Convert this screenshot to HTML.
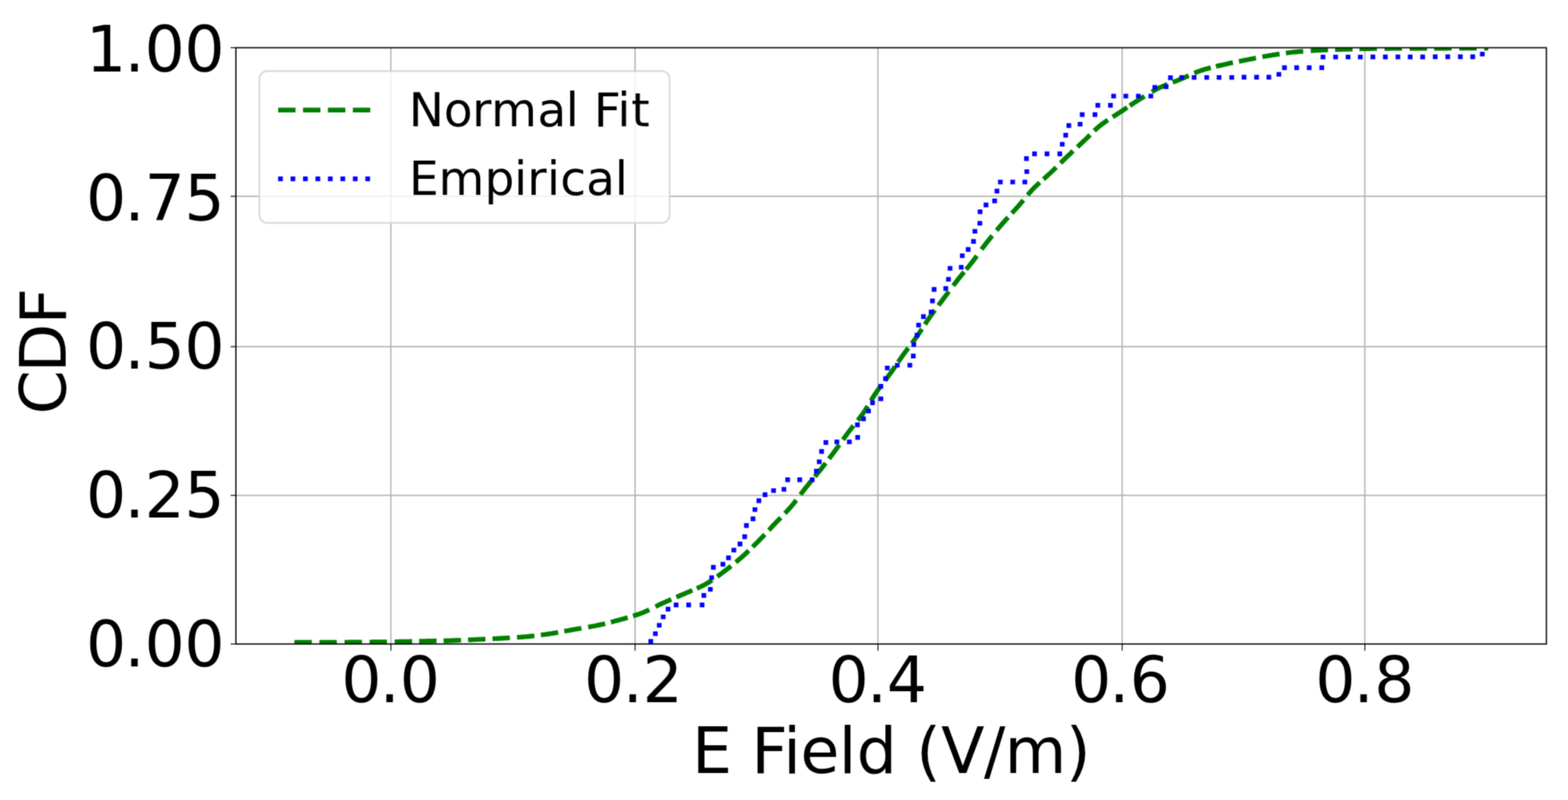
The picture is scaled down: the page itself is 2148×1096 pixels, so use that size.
<!DOCTYPE html><html><head><meta charset="utf-8"><style>html,body{margin:0;padding:0;background:#fff;overflow:hidden}svg{display:block}text{font-family:"DejaVu Sans","Liberation Sans",sans-serif;font-kerning:none}</style></head><body>
<svg width="2148" height="1096" viewBox="0 0 2148 1096">
<defs><clipPath id="ax"><rect x="323.2" y="65.4" width="1795.2" height="816.9"/></clipPath></defs>
<filter id="bl" x="0" y="0" width="2148" height="1096" filterUnits="userSpaceOnUse" color-interpolation-filters="sRGB"><feConvolveMatrix order="3" kernelMatrix="1 3 1 3 9 3 1 3 1" divisor="25" edgeMode="duplicate"/></filter>
<g filter="url(#bl)"><rect width="2148" height="1096" fill="#fff"/>
<path d="M535.5 65.4V882.3M870 65.4V882.3M1202.65 65.4V882.3M1537.3 65.4V882.3M1869.7 65.4V882.3M323.2 268.96H2118.4M323.2 474.92H2118.4M323.2 678.55H2118.4" stroke="#b0b0b0" stroke-width="1.72" fill="none"/>
<g clip-path="url(#ax)"><path d="M403.31 880 405.47 880 407.64 880 409.8 880 411.97 880 414.14 880 416.3 880 418.47 880 420.64 880 422.8 880 424.97 880 427.13 880M437.59 880 439.75 880 441.92 880 444.08 880 446.25 880 448.42 880 450.58 880 452.75 880 454.92 879.99 457.08 879.98 459.25 879.97 461.41 879.96M471.99 879.89 474.15 879.87 476.32 879.86 478.48 879.84 480.65 879.82 482.82 879.81 484.98 879.79 487.15 879.78 489.31 879.76 491.48 879.74 493.65 879.73 495.81 879.71M506.28 879.62 508.45 879.6 510.62 879.58 512.78 879.56 514.95 879.53 517.11 879.51 519.28 879.49 521.45 879.46 523.61 879.44 525.78 879.41 527.95 879.38 530.11 879.35M540.69 879.2 542.86 879.16 545.02 879.13 547.19 879.09 549.36 879.06 551.52 879.02 553.69 878.98 555.85 878.94 558.02 878.9 560.18 878.86 562.35 878.82 564.52 878.77M574.19 878.57 576.35 878.52 578.52 878.47 580.68 878.42 582.85 878.37 585.01 878.32 587.18 878.28 589.35 878.23 591.51 878.18 593.68 878.13 595.84 878.09 598.01 878.04M607.69 877.82 609.85 877.77 612.02 877.71 614.18 877.66 616.35 877.6 618.51 877.53 620.68 877.47 622.84 877.4 625.01 877.32 627.17 877.24 629.34 877.15 631.5 877.07M641.2 876.64 643.36 876.54 645.52 876.44 647.69 876.35 649.85 876.25 652.02 876.15 654.18 876.05 656.34 875.96 658.51 875.86 660.67 875.76 662.84 875.67 665 875.57M674.7 875.11 676.86 875.01 679.03 874.9 681.19 874.79 683.35 874.68 685.52 874.56 687.68 874.44 689.84 874.32 692.01 874.2 694.17 874.08 696.33 873.95 698.49 873.83M708.32 873.21 710.48 873.06 712.64 872.9 714.8 872.74 716.96 872.57 719.12 872.39 721.28 872.21 723.43 872.01 725.59 871.79 727.74 871.57 729.9 871.33 732.05 871.08M741 869.95 743.14 869.66 745.29 869.37 747.44 869.07 749.58 868.76 751.72 868.46 753.87 868.14 756.01 867.82 758.15 867.48 760.29 867.12 762.42 866.76 764.56 866.38M772.98 864.85 775.11 864.45 777.24 864.06 779.37 863.66 781.5 863.27 783.63 862.89 785.76 862.51 787.9 862.14 790.03 861.78 792.17 861.42 794.31 861.06 796.44 860.7M805.7 859.12 807.83 858.74 809.96 858.35 812.09 857.95 814.22 857.54 816.34 857.12 818.47 856.68 820.58 856.23 822.7 855.76 824.81 855.29 826.92 854.8 829.03 854.3M836.88 852.35 838.98 851.81 841.08 851.26 843.17 850.71 845.26 850.15 847.36 849.58 849.45 849.01 851.54 848.44 853.63 847.87 855.71 847.29 857.8 846.71 859.88 846.11M867.21 843.92 869.28 843.27 871.34 842.6 873.39 841.91 875.44 841.2 877.48 840.47 879.51 839.72 881.52 838.92 883.52 838.08 885.5 837.2 887.47 836.29 889.42 835.36M897.98 831.1 899.92 830.13 901.86 829.16 903.8 828.21 905.75 827.27 907.71 826.35 909.69 825.46 911.67 824.57 913.65 823.7 915.63 822.83 917.62 821.97 919.61 821.11M926.57 818.13 928.56 817.27 930.55 816.42 932.54 815.56 934.53 814.7 936.51 813.83 938.5 812.96 940.49 812.11 942.48 811.27 944.48 810.43 946.48 809.6 948.48 808.77M954.57 806.18 956.55 805.3 958.52 804.39 960.48 803.46 962.42 802.5 964.35 801.51 966.25 800.48 968.13 799.41 970 798.3 971.84 797.16 973.66 795.99 975.47 794.79M982.51 789.87 984.26 788.6 986.01 787.32 987.75 786.03 989.49 784.74 991.23 783.45 992.97 782.16 994.7 780.85 996.42 779.54 998.13 778.21 999.84 776.88 1001.53 775.53M1007.97 770.27 1009.63 768.88 1011.28 767.47 1012.92 766.06 1014.56 764.64 1016.19 763.22 1017.81 761.78 1019.42 760.33 1021.02 758.87 1022.6 757.39 1024.18 755.91 1025.75 754.42M1030.98 749.33 1032.52 747.81 1034.05 746.28 1035.58 744.74 1037.11 743.21 1038.64 741.67 1040.16 740.13 1041.67 738.58 1043.18 737.02 1044.68 735.46 1046.17 733.89 1047.65 732.31M1053.17 726.4 1054.64 724.82 1056.12 723.23 1057.59 721.65 1059.07 720.06 1060.56 718.49 1062.05 716.91 1063.55 715.35 1065.05 713.79 1066.56 712.24 1068.08 710.69 1069.6 709.15M1075.27 703.3 1076.76 701.73 1078.24 700.14 1079.71 698.55 1081.16 696.94 1082.59 695.31 1084.01 693.67 1085.4 692.01 1086.77 690.33 1088.12 688.64 1089.45 686.94 1090.78 685.22M1096.53 677.63 1097.84 675.91 1099.15 674.18 1100.46 672.46 1101.79 670.75 1103.13 669.04 1104.48 667.35 1105.84 665.67 1107.21 663.99 1108.58 662.31 1109.96 660.64 1111.35 658.98M1116.28 653.04 1117.66 651.37 1119.04 649.7 1120.41 648.02 1121.77 646.33 1123.13 644.64 1124.47 642.95 1125.82 641.25 1127.15 639.54 1128.49 637.83 1129.81 636.12 1131.14 634.41M1135.64 628.52 1136.95 626.8 1138.26 625.07 1139.56 623.34 1140.86 621.6 1142.15 619.87 1143.45 618.13 1144.73 616.38 1146 614.63 1147.27 612.88 1148.53 611.12 1149.79 609.35M1154.79 602.34 1156.05 600.58 1157.31 598.82 1158.58 597.06 1159.86 595.31 1161.15 593.57 1162.45 591.84 1163.76 590.12 1165.09 588.41 1166.44 586.71 1167.79 585.01 1169.14 583.33M1175.06 575.94 1176.4 574.24 1177.72 572.52 1179.02 570.79 1180.31 569.05 1181.57 567.29 1182.81 565.51 1184.02 563.72 1185.21 561.9 1186.37 560.07 1187.51 558.23 1188.64 556.39M1193.12 548.96 1194.25 547.11 1195.38 545.27 1196.53 543.43 1197.7 541.61 1198.89 539.8 1200.11 538.01 1201.35 536.23 1202.61 534.46 1203.88 532.71 1205.16 530.96 1206.45 529.22M1212.4 521.37 1213.71 519.64 1215.01 517.91 1216.31 516.18 1217.59 514.43 1218.87 512.68 1220.13 510.92 1221.38 509.15 1222.62 507.38 1223.85 505.6 1225.08 503.81 1226.31 502.03M1230.38 496.07 1231.61 494.28 1232.84 492.5 1234.08 490.72 1235.32 488.94 1236.57 487.18 1237.84 485.42 1239.11 483.67 1240.4 481.92 1241.69 480.19 1242.99 478.46 1244.3 476.73M1249.16 470.31 1250.46 468.58 1251.76 466.84 1253.04 465.09 1254.31 463.34 1255.58 461.58 1256.82 459.81 1258.05 458.03 1259.27 456.23 1260.47 454.43 1261.67 452.63 1262.85 450.81M1267.05 444.38 1268.24 442.57 1269.43 440.76 1270.64 438.96 1271.85 437.17 1273.08 435.38 1274.33 433.61 1275.58 431.85 1276.85 430.09 1278.13 428.34 1279.41 426.59 1280.7 424.85M1285.53 418.41 1286.83 416.68 1288.14 414.95 1289.45 413.23 1290.75 411.5 1292.05 409.77 1293.35 408.03 1294.65 406.3 1295.94 404.56 1297.24 402.82 1298.53 401.09 1299.82 399.35M1305.83 391.34 1307.14 389.61 1308.45 387.89 1309.77 386.17 1311.1 384.46 1312.43 382.75 1313.77 381.05 1315.13 379.36 1316.49 377.68 1317.86 376 1319.24 374.33 1320.63 372.67M1323.49 369.24 1324.87 367.57 1326.25 365.9 1327.62 364.23 1328.98 362.54 1330.33 360.85 1331.67 359.14 1332.99 357.43 1334.3 355.7 1335.6 353.97 1336.89 352.23 1338.18 350.48M1344.61 341.7 1345.9 339.95 1347.19 338.22 1348.5 336.49 1349.81 334.76 1351.13 333.05 1352.47 331.35 1353.82 329.65 1355.17 327.96 1356.53 326.27 1357.89 324.58 1359.26 322.91M1365.26 315.66 1366.66 314 1368.06 312.35 1369.46 310.7 1370.88 309.06 1372.29 307.42 1373.71 305.78 1375.15 304.16 1376.59 302.54 1378.04 300.94 1379.5 299.34 1380.97 297.74M1386.18 292.11 1387.65 290.52 1389.12 288.93 1390.58 287.33 1392.03 285.72 1393.48 284.11 1394.91 282.49 1396.33 280.85 1397.74 279.2 1399.13 277.54 1400.52 275.88 1401.9 274.21M1407.75 267.18 1409.16 265.53 1410.58 263.89 1412.01 262.27 1413.47 260.66 1414.95 259.08 1416.46 257.53 1417.99 256 1419.55 254.49 1421.12 253 1422.71 251.53 1424.31 250.07M1429.46 245.49 1431.08 244.06 1432.7 242.62 1434.32 241.17 1435.92 239.72 1437.51 238.24 1439.08 236.76 1440.65 235.26 1442.21 233.76 1443.76 232.25 1445.31 230.73 1446.86 229.22M1452.76 223.41 1454.31 221.89 1455.85 220.37 1457.4 218.86 1458.96 217.35 1460.52 215.85 1462.08 214.35 1463.66 212.86 1465.23 211.37 1466.81 209.89 1468.39 208.41 1469.97 206.93M1475.99 201.32 1477.57 199.85 1479.16 198.37 1480.74 196.9 1482.33 195.42 1483.91 193.94 1485.49 192.46 1487.05 190.96 1488.61 189.45 1490.15 187.93 1491.69 186.4 1493.23 184.88M1499.06 179.17 1500.63 177.68 1502.23 176.21 1503.84 174.77 1505.48 173.35 1507.15 171.97 1508.86 170.64 1510.59 169.33 1512.34 168.06 1514.11 166.81 1515.9 165.59 1517.7 164.39M1524.25 160.21 1526.09 159.06 1527.92 157.9 1529.75 156.75 1531.58 155.58 1533.39 154.4 1535.2 153.2 1537 152 1538.8 150.79 1540.59 149.57 1542.38 148.36 1544.18 147.15M1547.81 144.7 1549.62 143.5 1551.42 142.3 1553.23 141.12 1555.05 139.94 1556.88 138.78 1558.72 137.63 1560.55 136.47 1562.38 135.32 1564.21 134.16 1566.05 133.01 1567.88 131.86M1577.88 125.8 1579.76 124.73 1581.66 123.67 1583.56 122.64 1585.48 121.64 1587.42 120.67 1589.38 119.74 1591.34 118.84 1593.33 117.96 1595.32 117.11 1597.32 116.29 1599.33 115.48M1606.5 112.72 1608.53 111.95 1610.55 111.18 1612.57 110.4 1614.59 109.61 1616.6 108.81 1618.6 107.98 1620.6 107.14 1622.58 106.27 1624.56 105.39 1626.54 104.5 1628.51 103.61M1636.07 100.25 1638.06 99.4 1640.07 98.58 1642.09 97.79 1644.12 97.04 1646.17 96.34 1648.23 95.68 1650.3 95.04 1652.38 94.43 1654.46 93.85 1656.55 93.28 1658.65 92.72M1665.69 90.98 1667.8 90.48 1669.91 89.99 1672.02 89.51 1674.13 89.02 1676.24 88.54 1678.35 88.06 1680.47 87.59 1682.58 87.12 1684.7 86.67 1686.82 86.22 1688.94 85.77M1697.21 84.1 1699.34 83.67 1701.46 83.26 1703.59 82.84 1705.71 82.42 1707.84 82.01 1709.97 81.59 1712.09 81.17 1714.22 80.76 1716.34 80.34 1718.47 79.92 1720.59 79.5M1729.36 77.84 1731.49 77.45 1733.62 77.06 1735.76 76.69 1737.89 76.33 1740.03 75.97 1742.17 75.63 1744.31 75.29 1746.45 74.95 1748.59 74.61 1750.73 74.28 1752.87 73.95M1761.57 72.69 1763.72 72.41 1765.86 72.13 1768.02 71.88 1770.17 71.63 1772.32 71.41 1774.48 71.2 1776.63 70.99 1778.79 70.8 1780.95 70.61 1783.11 70.42 1785.27 70.24M1795.51 69.48 1797.67 69.34 1799.83 69.21 1802 69.08 1804.16 68.96 1806.32 68.85 1808.49 68.75 1810.65 68.65 1812.81 68.56 1814.98 68.47 1817.14 68.38 1819.31 68.3M1828.99 67.97 1831.16 67.9 1833.32 67.83 1835.49 67.77 1837.66 67.7 1839.82 67.63 1841.99 67.57 1844.15 67.5 1846.32 67.43 1848.48 67.36 1850.65 67.29 1852.81 67.22M1862.39 66.94 1864.55 66.89 1866.72 66.84 1868.89 66.79 1871.05 66.75 1873.22 66.72 1875.38 66.69 1877.55 66.66 1879.72 66.63 1881.88 66.6 1884.05 66.57 1886.21 66.55M1896.68 66.45 1898.85 66.43 1901.02 66.42 1903.18 66.41 1905.35 66.4 1907.52 66.4 1909.68 66.4 1911.85 66.4 1914.01 66.4 1916.18 66.4 1918.35 66.4 1920.51 66.4M1931.08 66.4 1933.25 66.4 1935.42 66.4 1937.58 66.4 1939.75 66.4 1941.92 66.4 1944.08 66.4 1946.25 66.4 1948.41 66.39 1950.58 66.38 1952.75 66.37 1954.91 66.36M1964.68 66.29 1966.85 66.27 1969.02 66.25 1971.18 66.24 1973.35 66.22 1975.51 66.21 1977.68 66.19 1979.85 66.18 1982.01 66.17 1984.18 66.15 1986.35 66.14 1988.51 66.13M1999.08 66.06 2001.25 66.05 2003.42 66.04 2005.58 66.03 2007.75 66.02 2009.91 66 2012.08 66 2014.25 65.99 2016.41 65.98 2018.58 65.97 2020.75 65.96 2022.91 65.95M2033.21 65.92 2033.72 65.91 2034.23 65.91 2034.74 65.91 2035.24 65.91 2035.75 65.91 2036.26 65.91 2036.77 65.91 2037.28 65.9 2037.78 65.9 2038.29 65.9 2038.8 65.9" stroke="#008000" stroke-width="6.44" fill="none" stroke-linecap="butt" stroke-linejoin="round"/>
<path d="M888.28 875.38h6.44v6.44h-6.44zM894.58 864.88h6.44v6.44h-6.44zM899.88 853.38h6.44v6.44h-6.44zM905.28 841.88h6.44v6.44h-6.44zM911.98 831.28h6.44v6.44h-6.44zM922.98 825.58h6.44v6.44h-6.44zM940.18 825.58h6.44v6.44h-6.44zM958.58 825.58h6.44v6.44h-6.44zM960.98 812.48h6.44v6.44h-6.44zM969.88 804.18h6.44v6.44h-6.44zM971.68 788.18h6.44v6.44h-6.44zM973.98 773.98h6.44v6.44h-6.44zM987.08 769.78h6.44v6.44h-6.44zM994.78 760.98h6.44v6.44h-6.44zM1002.08 750.38h6.44v6.44h-6.44zM1010.48 742.08h6.44v6.44h-6.44zM1016.88 732.08h6.44v6.44h-6.44zM1019.28 716.78h6.44v6.44h-6.44zM1028.28 707.58h6.44v6.44h-6.44zM1030.98 694.88h6.44v6.44h-6.44zM1036.38 682.78h6.44v6.44h-6.44zM1044.78 674.48h6.44v6.44h-6.44zM1056.48 668.88h6.44v6.44h-6.44zM1070.68 667.18h6.44v6.44h-6.44zM1075.78 653.98h6.44v6.44h-6.44zM1092.28 653.98h6.44v6.44h-6.44zM1109.38 653.98h6.44v6.44h-6.44zM1115.18 642.28h6.44v6.44h-6.44zM1119.08 629.38h6.44v6.44h-6.44zM1122.28 615.28h6.44v6.44h-6.44zM1128.18 603.08h6.44v6.44h-6.44zM1143.18 602.18h6.44v6.44h-6.44zM1160.28 602.18h6.44v6.44h-6.44zM1171.68 596.08h6.44v6.44h-6.44zM1171.38 578.78h6.44v6.44h-6.44zM1179.68 570.48h6.44v6.44h-6.44zM1186.58 559.88h6.44v6.44h-6.44zM1192.08 548.58h6.44v6.44h-6.44zM1203.48 543.18h6.44v6.44h-6.44zM1203.48 525.98h6.44v6.44h-6.44zM1209.88 515.48h6.44v6.44h-6.44zM1212.28 500.88h6.44v6.44h-6.44zM1225.98 497.18h6.44v6.44h-6.44zM1243.18 497.18h6.44v6.44h-6.44zM1247.88 484.48h6.44v6.44h-6.44zM1248.58 468.88h6.44v6.44h-6.44zM1252.98 456.08h6.44v6.44h-6.44zM1255.18 442.18h6.44v6.44h-6.44zM1261.78 430.48h6.44v6.44h-6.44zM1272.38 424.18h6.44v6.44h-6.44zM1274.18 409.08h6.44v6.44h-6.44zM1276.38 393.28h6.44v6.44h-6.44zM1292.38 392.08h6.44v6.44h-6.44zM1296.08 379.38h6.44v6.44h-6.44zM1298.28 364.38h6.44v6.44h-6.44zM1313.58 362.88h6.44v6.44h-6.44zM1314.98 347.18h6.44v6.44h-6.44zM1323.08 338.48h6.44v6.44h-6.44zM1330.38 327.48h6.44v6.44h-6.44zM1332.28 313.68h6.44v6.44h-6.44zM1339.08 302.68h6.44v6.44h-6.44zM1339.38 286.88h6.44v6.44h-6.44zM1347.48 277.48h6.44v6.44h-6.44zM1359.28 272.08h6.44v6.44h-6.44zM1362.48 258.48h6.44v6.44h-6.44zM1367.18 246.18h6.44v6.44h-6.44zM1384.08 246.18h6.44v6.44h-6.44zM1400.68 246.18h6.44v6.44h-6.44zM1403.38 231.88h6.44v6.44h-6.44zM1402.88 214.08h6.44v6.44h-6.44zM1413.98 207.48h6.44v6.44h-6.44zM1431.08 207.48h6.44v6.44h-6.44zM1448.58 207.48h6.44v6.44h-6.44zM1451.98 194.38h6.44v6.44h-6.44zM1456.68 181.98h6.44v6.44h-6.44zM1460.98 168.78h6.44v6.44h-6.44zM1476.38 166.88h6.44v6.44h-6.44zM1479.28 153.78h6.44v6.44h-6.44zM1496.78 153.78h6.44v6.44h-6.44zM1500.68 141.08h6.44v6.44h-6.44zM1517.98 141.08h6.44v6.44h-6.44zM1522.28 128.38h6.44v6.44h-6.44zM1539.08 128.38h6.44v6.44h-6.44zM1556.18 128.38h6.44v6.44h-6.44zM1573.28 128.38h6.44v6.44h-6.44zM1578.78 116.58h6.44v6.44h-6.44zM1594.28 115.58h6.44v6.44h-6.44zM1600.18 103.28h6.44v6.44h-6.44zM1615.68 102.88h6.44v6.44h-6.44zM1632.58 102.88h6.44v6.44h-6.44zM1649.88 102.88h6.44v6.44h-6.44zM1666.78 102.88h6.44v6.44h-6.44zM1684.18 102.88h6.44v6.44h-6.44zM1700.98 102.48h6.44v6.44h-6.44zM1718.18 102.48h6.44v6.44h-6.44zM1734.98 102.48h6.44v6.44h-6.44zM1748.68 98.68h6.44v6.44h-6.44zM1756.38 89.48h6.44v6.44h-6.44zM1773.08 89.48h6.44v6.44h-6.44zM1790.28 89.48h6.44v6.44h-6.44zM1807.48 89.48h6.44v6.44h-6.44zM1809.18 74.88h6.44v6.44h-6.44zM1826.38 74.88h6.44v6.44h-6.44zM1843.48 74.88h6.44v6.44h-6.44zM1860.28 74.88h6.44v6.44h-6.44zM1877.48 74.78h6.44v6.44h-6.44zM1894.58 74.78h6.44v6.44h-6.44zM1911.78 74.78h6.44v6.44h-6.44zM1928.58 74.78h6.44v6.44h-6.44zM1945.68 74.78h6.44v6.44h-6.44zM1962.88 74.58h6.44v6.44h-6.44zM1980.08 74.58h6.44v6.44h-6.44zM1997.28 74.58h6.44v6.44h-6.44zM2014.28 74.58h6.44v6.44h-6.44zM2027.4 70.9h6.44v6.44h-6.44z" fill="#0000ff"/></g>
<rect x="323.2" y="65.4" width="1795.2" height="816.9" fill="none" stroke="#000" stroke-width="1.72" stroke-linejoin="miter" stroke-linecap="square"/>
<path d="M535.5 882.3v9.1M870 882.3v9.1M1202.65 882.3v9.1M1537.3 882.3v9.1M1869.7 882.3v9.1M323.2 65.4h-7.3M323.2 268.96h-7.3M323.2 474.92h-7.3M323.2 678.55h-7.3M323.2 882.3h-7.3" stroke="#000" stroke-width="1.25" fill="none"/>
<text x="117.8 170.5 198 252.4" y="97.7" font-size="86.8">1.00</text>
<text x="117.8 170.5 198 252.4" y="301.7" font-size="86.8">0.75</text>
<text x="117.8 170.5 198 252.4" y="505.4" font-size="86.8">0.50</text>
<text x="117.8 170.5 198 252.4" y="708.9" font-size="86.8">0.25</text>
<text x="117.8 170.5 198 252.4" y="912.8" font-size="86.8">0.00</text>
<text x="467.4 520 547.4" y="962.1" font-size="86.8">0.0</text>
<text x="799.9 852.9 880.2" y="962.1" font-size="86.8">0.2</text>
<text x="1134.9 1187.5 1214.85" y="962.1" font-size="86.8">0.4</text>
<text x="1467.3 1519.6 1547.6" y="962.1" font-size="86.8">0.6</text>
<text x="1801.7 1854.3 1882.5" y="962.1" font-size="86.8">0.8</text>
<text x="947.96 1002.8 1029.26 1073 1096.6 1149 1173.5 1228.6 1255.1 1289.3 1348 1376.2 1460.2" y="1058.7" font-size="86.8">E Field (V/m)</text>
<text transform="rotate(-90)" x="-567.8 -510.3 -444.5" y="89.7" font-size="86.8">CDF</text>
<rect x="355.3" y="97.3" width="562" height="208.1" rx="11" ry="11" fill="#fff" fill-opacity="0.8" stroke="#cccccc" stroke-opacity="0.8" stroke-width="2.15"/>
<path d="M381 150.7h126.2" stroke="#008000" stroke-width="6.44" stroke-dasharray="23.83 10.3" fill="none"/>
<path d="M381 245h126.2" stroke="#0000ff" stroke-width="6.44" stroke-dasharray="6.44 10.63" fill="none"/>
<text x="559.95 608.1 646.7 672.8 736.2 774.9 792.8 813.45 845.8 864.8" y="173.3" font-size="64.4">Normal Fit</text>
<text x="560.35 600.8 663.7 704.2 722.2 749.3 767.6 802.9 842.3" y="267.4" font-size="64.4">Empirical</text>
</g></svg></body></html>
